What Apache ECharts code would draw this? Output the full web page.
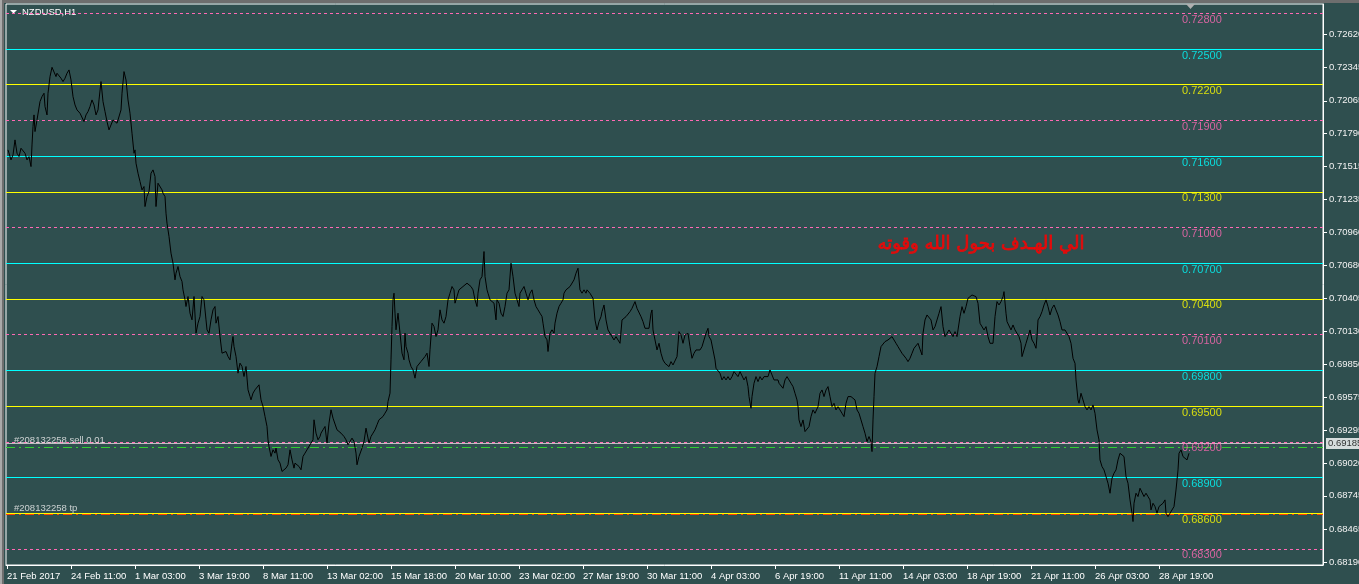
<!DOCTYPE html>
<html>
<head>
<meta charset="utf-8">
<script src="https://cdn.jsdelivr.net/npm/echarts@6/dist/echarts.min.js"></script>
<style>
html,body{margin:0;padding:0;background:#2f4f4f;}
#c{width:1359px;height:584px;}
</style>
</head>
<body>
<div id="c"></div>
<script>
// ---- data ----
const SYMBOL_TITLE = 'NZDUSD,H1';
// hourly bar index (1 bar per hour, trading hours only) and close price
const PRICE_BAR = [1,3,4,6,8,10,12,14,16,18,20,22,24,25,26,27,28,30,31,33,35,37,38,40,41,43,45,47,49,50,52,54,56,58,60,62,64,66,68,70,71,73,75,77,79,81,83,85,87,89,91,92,94,96,98,100,102,104,106,108,110,112,114,115,117,119,121,123,125,127,128,129,131,133,135,137,138,140,142,144,146,148,149,151,153,155,156,158,159,160,162,164,166,168,169,171,173,175,176,178,179,181,183,185,187,189,191,193,195,197,199,200,202,204,206,208,209,211,213,215,217,219,221,223,225,226,227,229,231,233,235,237,239,241,243,244,246,248,250,252,254,256,258,260,261,262,264,266,268,269,271,273,275,277,279,281,283,285,287,288,290,292,294,296,298,300,302,304,306,307,309,311,313,314,316,318,320,322,324,326,328,330,332,334,336,337,339,341,343,345,347,349,350,352,354,355,357,359,360,362,364,366,368,370,372,374,376,378,380,381,383,384,385,386,387,388,389,391,393,395,397,398,399,401,402,404,406,408,410,412,414,416,418,420,422,423,425,427,429,431,433,435,437,439,441,443,445,447,448,450,452,454,456,458,460,462,464,466,468,470,471,473,475,477,478,480,481,483,485,487,489,490,492,494,496,498,500,502,504,506,508,510,512,513,515,517,519,521,523,525,527,529,531,533,535,536,538,540,541,543,545,547,548,550,552,554,556,557,559,561,563,565,567,569,571,573,575,577,579,580,
583,586,588,590,592,594,595,597,599,601,603,605,607,609,611,613,615,617,619,621,623,625,627,628,630,632,634,636,638,640,642,644,645,646,648,650,652,654,656,658,660,662,664,666,668,670,672,674,676,678,679,681,683,685,687,689,691,693,695,697,699,701,702,704,706,708,709,711,713,715,717,719,721,723,725,727,729,731,733,735,737,739,741,742,744,745,747,749,751,753,755,757,759,761,763,765,767,769,771,772,774,776,778,780,782,784,786,788,790,791,792,794,796,798,800,802,804,806,808,809,811,813,815,817,819,821,823,825,827,829,831,833,835,837,839,841,842,844,846,848,850,852,854,856,858,860,862,864,865,866,867,868,870,872,874,876,878,880,881,883,885,887,889,891,893,895,897,899,901,903,905,907,909,911,913,915,916,918,920,922,924,926,928,930,932,934,936,938,940,942,944,946,948,950,951,953,955,957,959,961,963,965,967,969,971,973,975,977,979,981,983,985,986,988,990,992,994,996,997,999,1000,1002,1004,1006,1008,1010,1012,1014,1015,1017,1019,1021,1023,1025,1027,1029,1030,1031,1033,1035,1037,1039,1041,1043,1045,1047,1049,1051,1053,1055,1057,1058,1060,1062,1064,1066,1068,1069,1071,1072,1074,1076,1078,1080,1082,1084,1086,1088,1090,1092,1093,1095,1097,1099,1101,1103,1105,1107,1109,1111,1113,1115,1117,1119,1121,1123,1125,1126,1127,1129,1131,1133,1135,1137,1139,1141,1143,1144,1146,1148,1150,1152,1154,1156,1158,1159,1161,1163,1165,1167,1169,1171,1172,1174,1176,1178,1180,1182];
const PRICE_CLOSE = [0.71652,0.71666,0.71568,0.71610,0.71736,0.71624,0.71596,0.71666,0.71666,0.71624,0.71568,0.71596,0.71512,0.71694,0.71848,0.71946,0.71806,0.71904,0.71918,0.72058,0.72100,0.72128,0.72016,0.71946,0.72128,0.72268,0.72346,0.72338,0.72268,0.72296,0.72282,0.72254,0.72226,0.72254,0.72296,0.72324,0.72240,0.72100,0.72030,0.71988,0.71988,0.71960,0.71946,0.71890,0.71946,0.71974,0.72016,0.72072,0.72030,0.71946,0.71988,0.72072,0.72226,0.72058,0.71974,0.71890,0.71820,0.71806,0.71904,0.71918,0.71876,0.71890,0.71988,0.72128,0.72310,0.72240,0.72072,0.71960,0.71792,0.71624,0.71652,0.71540,0.71456,0.71386,0.71316,0.71344,0.71176,0.71260,0.71302,0.71456,0.71484,0.71428,0.71176,0.71372,0.71358,0.71316,0.71288,0.71260,0.71120,0.71036,0.70924,0.70784,0.70700,0.70560,0.70616,0.70672,0.70588,0.70546,0.70476,0.70392,0.70336,0.70420,0.70280,0.70224,0.70420,0.70112,0.70196,0.70252,0.70420,0.70392,0.70224,0.70140,0.70112,0.70224,0.70308,0.70336,0.70196,0.70252,0.70084,0.69944,0.69944,0.69958,0.69916,0.69888,0.70028,0.70084,0.70000,0.69916,0.69776,0.69860,0.69832,0.69748,0.69832,0.69636,0.69580,0.69552,0.69608,0.69636,0.69636,0.69678,0.69552,0.69496,0.69412,0.69328,0.69216,0.69160,0.69076,0.69132,0.69104,0.69146,0.69048,0.69020,0.68950,0.68964,0.68978,0.69006,0.69132,0.69048,0.68978,0.69020,0.69006,0.68992,0.68964,0.69076,0.69104,0.69132,0.69118,0.69188,0.69216,0.69384,0.69272,0.69216,0.69244,0.69272,0.69300,0.69328,0.69188,0.69356,0.69468,0.69398,0.69384,0.69300,0.69286,0.69272,0.69272,0.69244,0.69216,0.69174,0.69188,0.69230,0.69202,0.69104,0.69006,0.69076,0.69076,0.69146,0.69202,0.69314,0.69272,0.69188,0.69244,0.69272,0.69300,0.69342,0.69384,0.69398,0.69412,0.69440,0.69468,0.69538,0.69608,0.69888,0.70168,0.70392,0.70448,0.70280,0.70140,0.70280,0.70112,0.69944,0.69888,0.70112,0.70000,0.69944,0.69888,0.69832,0.69804,0.69734,0.69832,0.69846,0.69874,0.69888,0.69916,0.69944,0.69832,0.69972,0.70196,0.70168,0.70084,0.70140,0.70308,0.70224,0.70196,0.70252,0.70392,0.70448,0.70504,0.70476,0.70364,0.70420,0.70476,0.70476,0.70504,0.70504,0.70532,0.70518,0.70504,0.70476,0.70392,0.70336,0.70448,0.70560,0.70588,0.70798,0.70588,0.70476,0.70448,0.70392,0.70406,0.70364,0.70224,0.70392,0.70364,0.70280,0.70252,0.70336,0.70448,0.70476,0.70700,0.70588,0.70448,0.70392,0.70336,0.70448,0.70476,0.70504,0.70448,0.70392,0.70448,0.70476,0.70392,0.70336,0.70308,0.70280,0.70252,0.70196,0.70084,0.70056,0.69958,0.70112,0.70140,0.70112,0.70196,0.70280,0.70336,0.70364,0.70392,0.70448,0.70476,0.70490,0.70504,0.70504,0.70560,0.70616,0.70658,0.70476,0.70448,0.70476,0.70448,0.70476,
0.70447,0.70405,0.70223,0.70139,0.70209,0.70251,0.70293,0.70349,0.70223,0.70139,0.70125,0.70083,0.70055,0.70083,0.70097,0.70027,0.70223,0.70223,0.70251,0.70237,0.70293,0.70321,0.70335,0.70377,0.70321,0.70307,0.70251,0.70209,0.70153,0.70139,0.70153,0.70279,0.70307,0.70139,0.70055,0.69971,0.70027,0.69943,0.69887,0.69859,0.69859,0.69831,0.69873,0.69845,0.69831,0.69915,0.70125,0.70097,0.70027,0.70097,0.70083,0.70111,0.69999,0.69901,0.69943,0.69971,0.69957,0.69971,0.69999,0.69999,0.70111,0.70153,0.70083,0.70055,0.69971,0.69887,0.69817,0.69803,0.69775,0.69719,0.69747,0.69719,0.69747,0.69719,0.69747,0.69789,0.69775,0.69747,0.69789,0.69775,0.69719,0.69747,0.69663,0.69579,0.69481,0.69579,0.69691,0.69747,0.69705,0.69747,0.69719,0.69747,0.69733,0.69747,0.69803,0.69761,0.69719,0.69733,0.69719,0.69691,0.69705,0.69649,0.69719,0.69747,0.69719,0.69691,0.69663,0.69607,0.69551,0.69495,0.69383,0.69327,0.69383,0.69285,0.69271,0.69327,0.69411,0.69467,0.69439,0.69425,0.69495,0.69607,0.69635,0.69579,0.69635,0.69663,0.69579,0.69495,0.69523,0.69467,0.69495,0.69481,0.69439,0.69411,0.69523,0.69579,0.69565,0.69579,0.69565,0.69551,0.69467,0.69439,0.69383,0.69327,0.69271,0.69201,0.69243,0.69201,0.69117,0.69383,0.69579,0.69775,0.69831,0.69915,0.69999,0.70013,0.70041,0.70027,0.70055,0.70069,0.70083,0.70055,0.70027,0.69999,0.69971,0.69943,0.69957,0.69901,0.69873,0.69901,0.69943,0.69985,0.69999,0.70027,0.70013,0.69929,0.70111,0.70223,0.70265,0.70251,0.70223,0.70139,0.70167,0.70223,0.70279,0.70335,0.70167,0.70083,0.70111,0.70139,0.70111,0.70083,0.70125,0.70083,0.70139,0.70251,0.70335,0.70279,0.70335,0.70405,0.70419,0.70433,0.70447,0.70419,0.70363,0.70195,0.70181,0.70139,0.70167,0.70083,0.70027,0.70013,0.70027,0.70251,0.70377,0.70349,0.70377,0.70419,0.70461,0.70279,0.70209,0.70195,0.70139,0.70181,0.70139,0.70125,0.70083,0.70027,0.69915,0.69971,0.70027,0.70083,0.70139,0.70055,0.70027,0.69985,0.70083,0.70223,0.70251,0.70293,0.70349,0.70391,0.70335,0.70265,0.70321,0.70349,0.70307,0.70265,0.70209,0.70139,0.70125,0.70139,0.70125,0.70083,0.70027,0.69901,0.69859,0.69719,0.69551,0.69523,0.69607,0.69551,0.69495,0.69467,0.69495,0.69467,0.69509,0.69439,0.69299,0.69215,0.69047,0.68991,0.68963,0.68907,0.68851,0.68767,0.68893,0.68935,0.68963,0.69047,0.69103,0.69117,0.69075,0.68907,0.68851,0.68711,0.68599,0.68529,0.68683,0.68767,0.68739,0.68809,0.68795,0.68739,0.68767,0.68739,0.68711,0.68627,0.68683,0.68655,0.68599,0.68655,0.68655,0.68683,0.68711,0.68599,0.68571,0.68599,0.68585,0.68655,0.68795,0.68963,0.69103,0.69131,0.69075,0.69089,0.69047,0.69103];

// horizontal level lines (pink dashed / cyan / yellow repeating)
const LEVELS = [0.72800,0.72500,0.72200,0.71900,0.71600,0.71300,0.71000,0.70700,0.70400,0.70100,0.69800,0.69500,0.69200,0.68900,0.68600,0.68300];
// order / price lines
const ORDER_ID = '#208132258';
const ORDER_OPEN = 0.69155;
const ORDER_TP = 0.68589;
const BID = 0.69185;
const NOTE_TEXT = 'الي الهـدف بحول الله وقوته';
const NOTE_POS = [974, 0.70861];

// axis ticks
const X_TICK_BARS = [0,64,128,192,256,320,384,448,512,576,640,704,768,832,896,960,1024,1088,1152];
const X_TICK_LABELS = ['21 Feb 2017','24 Feb 11:00','1 Mar 03:00','3 Mar 19:00','8 Mar 11:00','13 Mar 02:00','15 Mar 18:00','20 Mar 10:00','23 Mar 02:00','27 Mar 19:00','30 Mar 11:00','4 Apr 03:00','6 Apr 19:00','11 Apr 11:00','14 Apr 03:00','18 Apr 19:00','21 Apr 11:00','26 Apr 03:00','28 Apr 19:00'];
const Y_TICKS = [0.72620,0.72345,0.72065,0.71790,0.71515,0.71235,0.70960,0.70680,0.70405,0.70130,0.69850,0.69575,0.69295,0.69020,0.68745,0.68465,0.68190];
const Y_MIN = 0.68164, Y_MAX = 0.72878;
const X_MIN = -1, X_MAX = 1316;
const LABEL_BAR = 1175;

// ---- chart ----
const FONT = 'Liberation Sans';
const PINK = '#ff69b4', CYAN = '#00ffff', YELLOW = '#ffff00';
function levelColor(i){ return [PINK, CYAN, YELLOW][i % 3]; }
function levelDash(i){ return i % 3 === 0 ? [3, 3] : null; }
const ORDER_STYLES = [
  {color: '#c0c0c0', dash: null},          // bid
  {color: '#32cd32', dash: [9, 4, 2, 4]},  // open price
  {color: '#ff4500', dash: [9, 4, 2, 4]}   // take profit
];

const chart = echarts.init(document.getElementById('c'), null, {renderer: 'canvas', devicePixelRatio: 1});

// horizontal 1px line across the grid, drawn as filled pixel-row segments
function hLine(params, api, color, dash) {
  const cs = params.coordSys;
  const row = Math.round(api.coord([X_MIN, api.value(1)])[1] - 0.2);
  const x0 = cs.x, x1 = cs.x + cs.width;
  if (!dash) {
    return {type: 'rect', silent: true, shape: {x: x0, y: row, width: x1 - x0, height: 1}, style: {fill: color}};
  }
  const children = [];
  let x = x0, k = 0;
  while (x < x1) {
    const len = dash[k % dash.length];
    if (k % 2 === 0) {
      children.push({type: 'rect', silent: true, shape: {x: x, y: row, width: Math.min(len, x1 - x), height: 1}, style: {fill: color}});
    }
    x += len; k++;
  }
  return {type: 'group', children: children};
}

const option = {
  backgroundColor: '#2f4f4f',
  animation: false,
  textStyle: {fontFamily: FONT},
  grid: {left: 6, right: 36, top: 4, bottom: 19, show: true, borderColor: '#ffffff', borderWidth: 1,
    backgroundColor: 'transparent', containLabel: false, outerBoundsMode: 'none'},
  xAxis: {
    type: 'value', min: X_MIN, max: X_MAX,
    splitLine: {show: false},
    axisLine: {show: true, onZero: false, lineStyle: {color: '#ffffff', width: 1}},
    axisTick: {show: true, customValues: X_TICK_BARS, length: 4, lineStyle: {color: '#ffffff'}},
    axisLabel: {
      customValues: X_TICK_BARS, color: '#ffffff', fontFamily: FONT, fontSize: 9.5,
      align: 'left', margin: 6, showMinLabel: true, showMaxLabel: true,
      formatter: v => X_TICK_LABELS[X_TICK_BARS.indexOf(v)] || ''
    }
  },
  yAxis: {
    type: 'value', position: 'right', min: Y_MIN, max: Y_MAX, scale: true,
    splitLine: {show: false},
    axisLine: {show: true, onZero: false, lineStyle: {color: '#ffffff', width: 1}},
    axisTick: {show: true, customValues: Y_TICKS, length: 4, lineStyle: {color: '#ffffff'}},
    axisLabel: {
      customValues: Y_TICKS, color: '#f2f2f2', fontFamily: FONT, fontSize: 9.5, margin: 6,
      formatter: v => v.toFixed(5)
    }
  },
  series: [
    {
      name: 'levelLines', type: 'custom', z: 1, silent: true, clip: true,
      data: LEVELS.map(v => [X_MIN, v]),
      encode: {x: 0, y: 1},
      renderItem: (params, api) => hLine(params, api, levelColor(params.dataIndex), levelDash(params.dataIndex))
    },
    {
      name: 'orderLines', type: 'custom', z: 2, silent: true, clip: true,
      data: [BID, ORDER_OPEN, ORDER_TP].map(v => [X_MIN, v]),
      encode: {x: 0, y: 1},
      renderItem: (params, api) => hLine(params, api, ORDER_STYLES[params.dataIndex].color, ORDER_STYLES[params.dataIndex].dash)
    },
    {
      name: 'levels', type: 'scatter', z: 2, symbolSize: 0, silent: true, clip: false,
      data: LEVELS.map((v, i) => ({value: [LABEL_BAR, v], label: {color: levelColor(i)}})),
      label: {show: true, position: [0, 1], align: 'left', verticalAlign: 'top', fontFamily: FONT, fontSize: 11,
        formatter: p => p.value[1].toFixed(5)}
    },
    {
      name: SYMBOL_TITLE, type: 'line', z: 3, symbol: 'none', clip: true,
      lineStyle: {color: '#000000', width: 1},
      data: PRICE_BAR.map((b, i) => [b, PRICE_CLOSE[i]])
    },
    {
      name: 'notes', type: 'scatter', z: 4, symbolSize: 0, silent: true, clip: false,
      data: [
        {value: [7, ORDER_OPEN], label: {formatter: ORDER_ID + ' sell 0.01', position: [0, -2], verticalAlign: 'bottom', align: 'left', color: '#f0f0f0', fontSize: 9.5}},
        {value: [7, ORDER_TP], label: {formatter: ORDER_ID + ' tp', position: [0, -1], verticalAlign: 'bottom', align: 'left', color: '#f0f0f0', fontSize: 9.5}},
        {value: NOTE_POS, label: {formatter: NOTE_TEXT, position: 'inside', align: 'center', verticalAlign: 'middle', color: '#ff0000', fontSize: 18, fontFamily: 'DejaVu Sans', textBorderColor: '#ff0000', textBorderWidth: 0.8}},
        {value: [X_MAX, BID], label: {formatter: BID.toFixed(5), position: [3, 0], align: 'left', verticalAlign: 'middle', color: '#000000', backgroundColor: '#ffffff', padding: [1, 2, 0, 2], fontSize: 9.5}}
      ],
      label: {show: true, fontFamily: FONT}
    }
  ],
  graphic: [
    {type: 'rect', left: 0, top: 0, shape: {width: 1359, height: 3}, style: {fill: '#6e6e6e'}, silent: true},
    {type: 'rect', left: 0, top: 0, shape: {width: 2, height: 584}, style: {fill: '#a9a9a9'}, silent: true},
    {type: 'rect', left: 2, top: 0, shape: {width: 2, height: 584}, style: {fill: '#6e6e6e'}, silent: true},
    {type: 'polygon', shape: {points: [[10, 10], [17, 10], [13.5, 13.5]]}, style: {fill: '#ffffff'}, silent: true},
    {type: 'text', left: 22, top: 7, style: {text: SYMBOL_TITLE, fill: '#ffffff', font: '9.5px ' + FONT}, silent: true},
    {type: 'polygon', shape: {points: [[1186, 4], [1195, 4], [1190.5, 9]]}, style: {fill: '#b0b0b0'}, silent: true}
  ]
};
chart.setOption(option);
</script>
</body>
</html>
